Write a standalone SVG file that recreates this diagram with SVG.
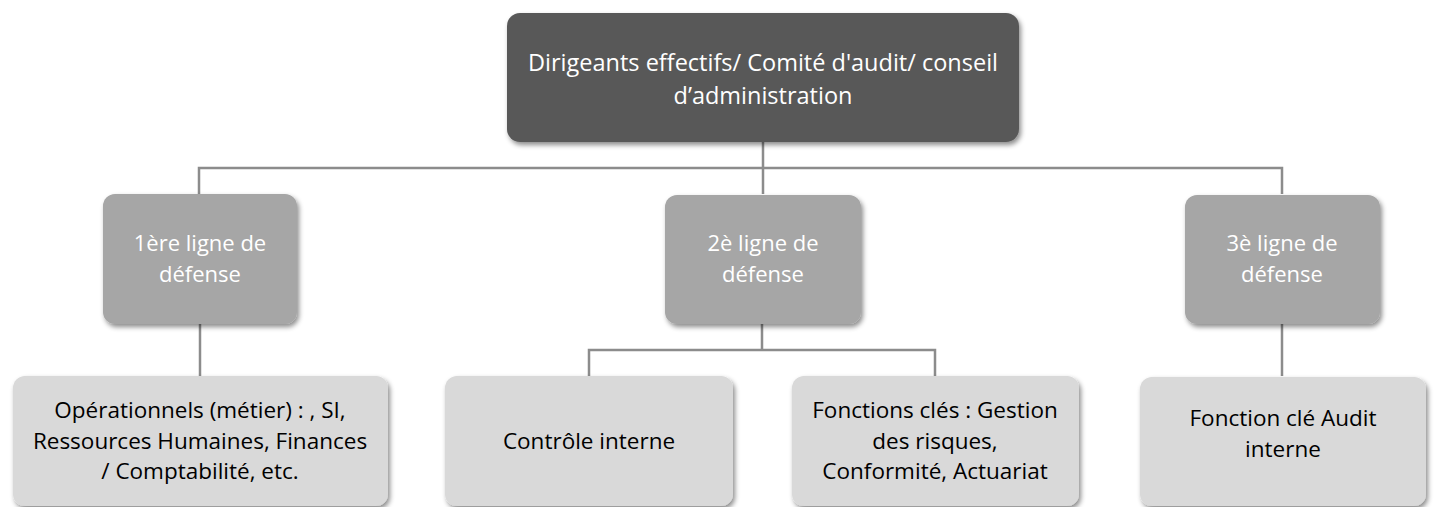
<svg xmlns="http://www.w3.org/2000/svg" width="1434" height="507" viewBox="0 0 1434 507">
<defs>
<filter id="sh" x="-10%" y="-10%" width="120%" height="130%">
<feDropShadow dx="2" dy="3" stdDeviation="2.5" flood-color="#000" flood-opacity="0.45"/>
</filter>
<style>
.top{fill:#595959;filter:url(#sh)}
.mid{fill:#a6a6a6;filter:url(#sh)}
.bot{fill:#d9d9d9;filter:url(#sh)}
.tw{font-family:"Open Sans","Noto Sans",sans-serif;font-size:22px;fill:#ffffff;text-anchor:middle}
.tt{font-size:23.5px}
.tb{font-family:"Open Sans","Noto Sans",sans-serif;font-size:22.5px;fill:#000000;text-anchor:middle}
.con{fill:none;stroke:#8c8c8c;stroke-width:2.5}
</style>
</defs>
<rect width="1434" height="507" fill="#ffffff"/>
<g id="connectors">
<path class="con" d="M763,142 V168 M199,194 V168 H1282 V194 M763,168 V194"/>
<path class="con" d="M200,324 V376"/>
<path class="con" d="M762,324 V350 M589,376 V350 H935 V376"/>
<path class="con" d="M1282,324 V376"/>
</g>
<g id="n0">
<rect class="top" x="507" y="13" width="512" height="129" rx="13"/>
<text class="tw tt" x="763" y="71">Dirigeants effectifs/ Comité d'audit/ conseil</text>
<text class="tw tt" x="763" y="104">d’administration</text>
</g>
<g id="n1">
<rect class="mid" x="103" y="194" width="194" height="130" rx="12"/>
<text class="tw" x="200" y="251">1ère ligne de</text>
<text class="tw" x="200" y="282">défense</text>
</g>
<g id="n2">
<rect class="mid" x="665" y="195" width="196" height="129" rx="12"/>
<text class="tw" x="763" y="251">2è ligne de</text>
<text class="tw" x="763" y="282">défense</text>
</g>
<g id="n3">
<rect class="mid" x="1185" y="195" width="195" height="129" rx="12"/>
<text class="tw" x="1282" y="251">3è ligne de</text>
<text class="tw" x="1282" y="282">défense</text>
</g>
<g id="n4">
<rect class="bot" x="13" y="376" width="375" height="130" rx="12"/>
<text class="tb" x="200" y="418">Opérationnels (métier) : , SI,</text>
<text class="tb" x="200" y="448.5">Ressources Humaines, Finances</text>
<text class="tb" x="200" y="479">/ Comptabilité, etc.</text>
</g>
<g id="n5">
<rect class="bot" x="445" y="376" width="288" height="130" rx="12"/>
<text class="tb" x="589" y="449">Contrôle interne</text>
</g>
<g id="n6">
<rect class="bot" x="792" y="376" width="287" height="130" rx="12"/>
<text class="tb" x="935" y="418">Fonctions clés : Gestion</text>
<text class="tb" x="935" y="448.5">des risques,</text>
<text class="tb" x="935" y="479">Conformité, Actuariat</text>
</g>
<g id="n7">
<rect class="bot" x="1140" y="377" width="286" height="129" rx="12"/>
<text class="tb" x="1283" y="426">Fonction clé Audit</text>
<text class="tb" x="1283" y="457">interne</text>
</g>
</svg>
